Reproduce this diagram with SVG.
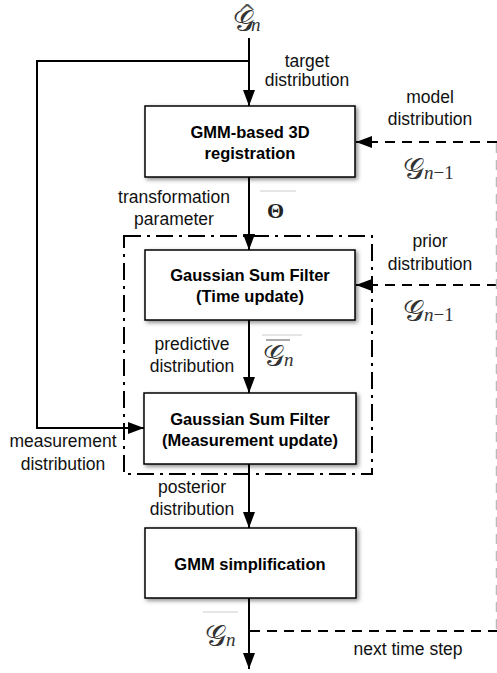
<svg xmlns="http://www.w3.org/2000/svg" width="497" height="673" viewBox="0 0 497 673">
<style>
.lbl{font-family:"Liberation Sans",Arial,sans-serif;font-size:17.5px;fill:#111;text-anchor:middle}
.bx{font-family:"Liberation Sans",Arial,sans-serif;font-size:16.5px;font-weight:bold;fill:#000;text-anchor:middle}
.box{fill:#fff;stroke:#000;stroke-width:1.5;filter:url(#sh)}
.ln{stroke:#000;stroke-width:2;fill:none}
.dash{stroke:#000;stroke-width:2;fill:none;stroke-dasharray:10 7}
.dd{stroke:#000;stroke-width:2;fill:none;stroke-dasharray:17 6 3 6}
.m{font-family:"DejaVu Serif","Liberation Serif",serif;fill:#333}
.mi{font-family:"Liberation Serif",serif;font-style:italic;fill:#333}
.faint{stroke:#ccc;stroke-width:1}
</style>
<defs>
<filter id="sh" x="-10%" y="-10%" width="125%" height="130%">
<feDropShadow dx="2" dy="2" stdDeviation="2" flood-color="#000" flood-opacity="0.45"/>
</filter>
<marker id="ah" viewBox="0 0 16 12" refX="16" refY="6" markerWidth="16" markerHeight="12" markerUnits="userSpaceOnUse" orient="auto">
<path d="M0,0 L16,6 L0,12 Z" fill="#000"/>
</marker>
</defs>
<rect width="497" height="673" fill="#fff"/>

<g id="connectors">
<rect x="124" y="236" width="248" height="238" class="dd"/>
<line x1="249" y1="38" x2="249" y2="106" class="ln" marker-end="url(#ah)"/>
<polyline points="249,61 37,61 37,428 144,428" class="ln" marker-end="url(#ah)"/>
<line x1="249" y1="177" x2="249" y2="250" class="ln" marker-end="url(#ah)"/>
<line x1="249" y1="320" x2="249" y2="393" class="ln" marker-end="url(#ah)"/>
<line x1="249" y1="464" x2="249" y2="528" class="ln" marker-end="url(#ah)"/>
<line x1="249" y1="598" x2="249" y2="669" class="ln" marker-end="url(#ah)"/>
<line x1="497" y1="142" x2="356" y2="142" class="dash" marker-end="url(#ah)"/>
<line x1="497" y1="285" x2="356" y2="285" class="dash" marker-end="url(#ah)"/>
<line x1="250" y1="631" x2="497" y2="631" class="dash"/>
<line x1="496.5" y1="143" x2="496.5" y2="631" stroke="#bbb" stroke-width="1.5" stroke-dasharray="10 7"/>
</g>

<g id="n1">
<rect x="145" y="106" width="210" height="71" class="box"/>
<text x="250" y="138" class="bx">GMM-based 3D</text>
<text x="250" y="159" class="bx">registration</text>
</g>
<g id="n2">
<rect x="145" y="250" width="210" height="70" class="box"/>
<text x="250" y="281" class="bx">Gaussian Sum Filter</text>
<text x="250" y="302" class="bx">(Time update)</text>
</g>
<g id="n3">
<rect x="144" y="393" width="212" height="71" class="box"/>
<text x="250" y="425" class="bx">Gaussian Sum Filter</text>
<text x="250" y="446" class="bx">(Measurement update)</text>
</g>
<g id="n4">
<rect x="145" y="528" width="211" height="70" class="box"/>
<text x="250" y="570" class="bx">GMM simplification</text>
</g>

<g id="labels">
<text x="307" y="67" class="lbl">target</text>
<text x="307" y="86" class="lbl">distribution</text>
<text x="430" y="103" class="lbl">model</text>
<text x="430" y="125" class="lbl">distribution</text>
<text x="174" y="203" class="lbl">transformation</text>
<text x="174" y="225" class="lbl">parameter</text>
<text x="430" y="247" class="lbl">prior</text>
<text x="430" y="270" class="lbl">distribution</text>
<text x="192" y="350" class="lbl">predictive</text>
<text x="192" y="372" class="lbl">distribution</text>
<text x="63" y="447" class="lbl">measurement</text>
<text x="63" y="470" class="lbl">distribution</text>
<text x="192" y="493" class="lbl">posterior</text>
<text x="192" y="515" class="lbl">distribution</text>
<text x="408" y="655" class="lbl">next time step</text>
</g>

<g id="math">
<text class="m" font-size="30"><tspan x="233" y="31">𝒢</tspan><tspan x="238" y="20" font-size="22" fill="#555">^</tspan><tspan x="251" y="31" class="mi" font-size="19">n</tspan></text>
<text x="267" y="218" font-family="'Liberation Serif',serif" font-weight="bold" font-size="22" fill="#222">Θ</text>
<line x1="260" y1="191" x2="296" y2="191" class="faint"/>
<text x="403" y="179" class="m" font-size="30">𝒢<tspan class="mi" font-size="19">n</tspan><tspan font-family="'Liberation Serif',serif" font-size="19">−1</tspan></text>
<text x="403" y="321" class="m" font-size="30">𝒢<tspan class="mi" font-size="19">n</tspan><tspan font-family="'Liberation Serif',serif" font-size="19">−1</tspan></text>
<line x1="262" y1="335" x2="302" y2="335" class="faint"/>
<line x1="266" y1="340" x2="290" y2="340" stroke="#555" stroke-width="1"/>
<text x="263" y="366" class="m" font-size="30">𝒢<tspan class="mi" font-size="19">n</tspan></text>
<line x1="203" y1="612" x2="238" y2="612" class="faint"/>
<text x="205" y="646" class="m" font-size="30">𝒢<tspan class="mi" font-size="19">n</tspan></text>
</g>
</svg>
